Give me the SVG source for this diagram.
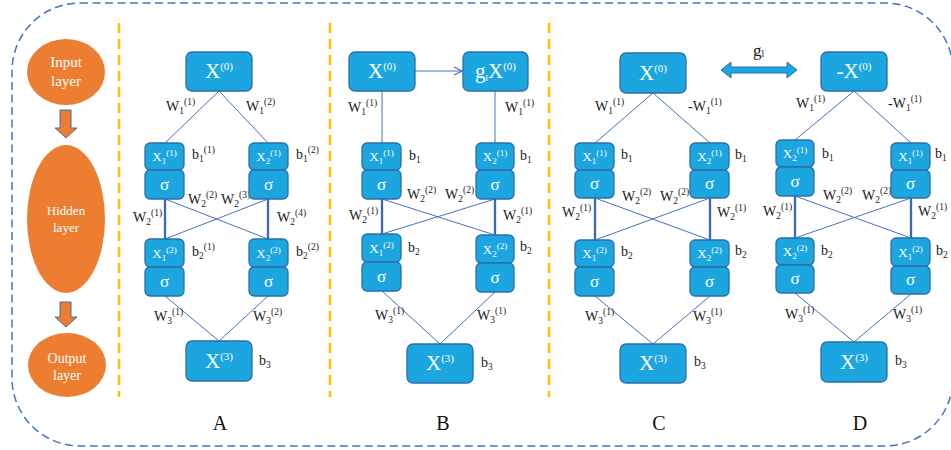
<svg xmlns="http://www.w3.org/2000/svg" width="951" height="450" viewBox="0 0 951 450">
<style>
.box{fill:#1CA6DF;stroke:#2C6FA8;stroke-width:1.3}
.bt{font-family:"Liberation Serif",serif;fill:#fff;text-anchor:middle}
.big{font-size:21px}
.sm{font-size:13px}
.sg{font-size:17px}
.bs{font-size:11px}
.ss{font-size:9px}
.lb{font-family:"Liberation Serif",serif;fill:#1a1a1a;font-size:14px}
.s{font-size:9.5px}
.gl{font-size:17px}
.pl{font-family:"Liberation Serif",serif;fill:#111;font-size:20px;text-anchor:middle}
.et{font-family:"Liberation Serif",serif;fill:#fff;text-anchor:middle}
.thin{stroke:#4472C4;stroke-width:1;fill:none}
.thick{stroke:#3A68B4;stroke-width:2.3;fill:none}
.sep{stroke:#FFC000;stroke-width:2.6;stroke-dasharray:10 6}
.oarr{fill:#ED7D31;stroke:#41719C;stroke-width:1}
</style>
<defs>
<marker id="open" viewBox="0 0 10 10" refX="9" refY="5" markerWidth="10" markerHeight="10" markerUnits="userSpaceOnUse" orient="auto">
<path d="M1,1 L9,5 L1,9" fill="none" stroke="#4472C4" stroke-width="1.2"/>
</marker>
</defs>

<rect x="12" y="3" width="941" height="443" rx="68" fill="none" stroke="#4472C4" stroke-width="1.5" stroke-dasharray="8 4.5"/>

<g id="separators">
<line class="sep" x1="119" y1="23" x2="119" y2="397"/>
<line class="sep" x1="330" y1="23" x2="330" y2="397"/>
<line class="sep" x1="549" y1="23" x2="549" y2="397"/>
</g>

<g id="legend">
<g id="input-layer"><ellipse cx="66" cy="72" rx="39" ry="33" fill="#ED7D31"/><text class="et" x="66" y="67" font-size="15">Input</text><text class="et" x="66" y="86" font-size="15">layer</text></g>
<g id="hidden-layer"><ellipse cx="66" cy="219" rx="39" ry="74" fill="#ED7D31"/><text class="et" x="66" y="215" font-size="13">Hidden</text><text class="et" x="66" y="232" font-size="13">layer</text></g>
<g id="output-layer"><ellipse cx="67" cy="365" rx="39" ry="32" fill="#ED7D31"/><text class="et" x="67" y="363" font-size="14">Output</text><text class="et" x="67" y="380" font-size="14">layer</text></g>
<path class="oarr" d="M60,110 L71,110 L71,128 L77,128 L66,138 L55,128 L60,128 Z"/>
<path class="oarr" d="M60,302 L71,302 L71,317 L77,317 L66,327 L55,317 L60,317 Z"/>
</g>

<g id="connectors">
<!-- A -->
<line class="thin" x1="219" y1="91" x2="165" y2="143"/>
<line class="thin" x1="219" y1="91" x2="268" y2="143"/>
<line class="thick" x1="165" y1="199" x2="165" y2="239"/>
<line class="thick" x1="268" y1="199" x2="268" y2="239"/>
<line class="thin" x1="165" y1="199" x2="268" y2="239"/>
<line class="thin" x1="268" y1="199" x2="165" y2="239"/>
<line class="thin" x1="165" y1="296" x2="219" y2="341"/>
<line class="thin" x1="268" y1="296" x2="219" y2="341"/>
<!-- B -->
<line class="thin" x1="415" y1="71" x2="462" y2="71" marker-end="url(#open)"/>
<line class="thin" x1="382" y1="91" x2="382" y2="143"/>
<line class="thin" x1="495" y1="91" x2="495" y2="143"/>
<line class="thick" x1="382" y1="199" x2="382" y2="234"/>
<line class="thick" x1="495" y1="199" x2="495" y2="235"/>
<line class="thin" x1="382" y1="199" x2="495" y2="235"/>
<line class="thin" x1="495" y1="199" x2="382" y2="234"/>
<line class="thin" x1="382" y1="291" x2="440" y2="344"/>
<line class="thin" x1="495" y1="292" x2="440" y2="344"/>
<!-- C -->
<line class="thin" x1="653" y1="93" x2="595" y2="143"/>
<line class="thin" x1="653" y1="93" x2="710" y2="143"/>
<line class="thick" x1="595" y1="198" x2="595" y2="240"/>
<line class="thick" x1="710" y1="198" x2="710" y2="240"/>
<line class="thin" x1="595" y1="198" x2="710" y2="240"/>
<line class="thin" x1="710" y1="198" x2="595" y2="240"/>
<line class="thin" x1="595" y1="296" x2="653" y2="344"/>
<line class="thin" x1="710" y1="296" x2="653" y2="344"/>
<!-- D -->
<line class="thin" x1="854" y1="91" x2="795" y2="140"/>
<line class="thin" x1="854" y1="91" x2="911" y2="143"/>
<line class="thick" x1="795" y1="196" x2="795" y2="238"/>
<line class="thick" x1="911" y1="198" x2="911" y2="238"/>
<line class="thin" x1="795" y1="196" x2="911" y2="238"/>
<line class="thin" x1="911" y1="198" x2="795" y2="238"/>
<line class="thin" x1="795" y1="293" x2="854" y2="342"/>
<line class="thin" x1="911" y1="294" x2="854" y2="342"/>
<!-- g_l double arrow -->
<path d="M721,70 L731,62 L731,67 L787,67 L787,62 L797,70 L787,78 L787,73 L731,73 L731,78 Z" fill="#1CA6DF" stroke="#2C6FA8" stroke-width="1"/>
</g>

<g id="connector-labels" class="lb">
<!-- A -->
<text x="166" y="111">W<tspan class="s" dy="3">1</tspan><tspan class="s" dy="-9">(1)</tspan></text>
<text x="246" y="111">W<tspan class="s" dy="3">1</tspan><tspan class="s" dy="-9">(2)</tspan></text>
<text x="188" y="204">W<tspan class="s" dy="3">2</tspan><tspan class="s" dy="-9">(2)</tspan></text>
<text x="221" y="204">W<tspan class="s" dy="3">2</tspan><tspan class="s" dy="-9">(3)</tspan></text>
<text x="133" y="222">W<tspan class="s" dy="3">2</tspan><tspan class="s" dy="-9">(1)</tspan></text>
<text x="277" y="222">W<tspan class="s" dy="3">2</tspan><tspan class="s" dy="-9">(4)</tspan></text>
<text x="154" y="321">W<tspan class="s" dy="3">3</tspan><tspan class="s" dy="-9">(1)</tspan></text>
<text x="253" y="321">W<tspan class="s" dy="3">3</tspan><tspan class="s" dy="-9">(2)</tspan></text>
<!-- B -->
<text x="348" y="112">W<tspan class="s" dy="3">1</tspan><tspan class="s" dy="-9">(1)</tspan></text>
<text x="505" y="112">W<tspan class="s" dy="3">1</tspan><tspan class="s" dy="-9">(1)</tspan></text>
<text x="407" y="199">W<tspan class="s" dy="3">2</tspan><tspan class="s" dy="-9">(2)</tspan></text>
<text x="445" y="199">W<tspan class="s" dy="3">2</tspan><tspan class="s" dy="-9">(2)</tspan></text>
<text x="349" y="220">W<tspan class="s" dy="3">2</tspan><tspan class="s" dy="-9">(1)</tspan></text>
<text x="503" y="220">W<tspan class="s" dy="3">2</tspan><tspan class="s" dy="-9">(1)</tspan></text>
<text x="375" y="320">W<tspan class="s" dy="3">3</tspan><tspan class="s" dy="-9">(1)</tspan></text>
<text x="477" y="320">W<tspan class="s" dy="3">3</tspan><tspan class="s" dy="-9">(1)</tspan></text>
<!-- C -->
<text x="595" y="111">W<tspan class="s" dy="3">1</tspan><tspan class="s" dy="-9">(1)</tspan></text>
<text x="688" y="111">-W<tspan class="s" dy="3">1</tspan><tspan class="s" dy="-9">(1)</tspan></text>
<text x="622" y="201">W<tspan class="s" dy="3">2</tspan><tspan class="s" dy="-9">(2)</tspan></text>
<text x="660" y="201">W<tspan class="s" dy="3">2</tspan><tspan class="s" dy="-9">(2)</tspan></text>
<text x="562" y="217">W<tspan class="s" dy="3">2</tspan><tspan class="s" dy="-9">(1)</tspan></text>
<text x="717" y="217">W<tspan class="s" dy="3">2</tspan><tspan class="s" dy="-9">(1)</tspan></text>
<text x="585" y="321">W<tspan class="s" dy="3">3</tspan><tspan class="s" dy="-9">(1)</tspan></text>
<text x="693" y="321">W<tspan class="s" dy="3">3</tspan><tspan class="s" dy="-9">(1)</tspan></text>
<!-- D -->
<text x="796" y="108">W<tspan class="s" dy="3">1</tspan><tspan class="s" dy="-9">(1)</tspan></text>
<text x="888" y="108">-W<tspan class="s" dy="3">1</tspan><tspan class="s" dy="-9">(1)</tspan></text>
<text x="823" y="200">W<tspan class="s" dy="3">2</tspan><tspan class="s" dy="-9">(2)</tspan></text>
<text x="862" y="200">W<tspan class="s" dy="3">2</tspan><tspan class="s" dy="-9">(2)</tspan></text>
<text x="763" y="216">W<tspan class="s" dy="3">2</tspan><tspan class="s" dy="-9">(1)</tspan></text>
<text x="918" y="216">W<tspan class="s" dy="3">2</tspan><tspan class="s" dy="-9">(1)</tspan></text>
<text x="785" y="319">W<tspan class="s" dy="3">3</tspan><tspan class="s" dy="-9">(1)</tspan></text>
<text x="893" y="319">W<tspan class="s" dy="3">3</tspan><tspan class="s" dy="-9">(1)</tspan></text>
<!-- g_l -->
<text class="gl" x="753" y="56">g<tspan class="s" dy="1">l</tspan></text>
</g>

<!-- Panel A nodes -->
<g id="A-x0"><rect class="box" x="186" y="52" width="66" height="39" rx="6"/><text class="bt big" x="219" y="78">X<tspan class="bs" dy="-8">(0)</tspan></text></g>
<g id="A-h11"><rect class="box" x="145" y="143" width="39" height="27" rx="5"/><rect class="box" x="145" y="170" width="39" height="29" rx="5"/><text class="bt sm" x="164.5" y="161">X<tspan class="ss" dy="3">1</tspan><tspan class="ss" dy="-8">(1)</tspan></text><text class="bt sg" x="164.5" y="190">σ</text><text class="lb" x="192" y="159">b<tspan class="s" dy="3">1</tspan><tspan class="s" dy="-9">(1)</tspan></text></g>
<g id="A-h12"><rect class="box" x="249" y="143" width="39" height="27" rx="5"/><rect class="box" x="249" y="170" width="39" height="29" rx="5"/><text class="bt sm" x="268.5" y="161">X<tspan class="ss" dy="3">2</tspan><tspan class="ss" dy="-8">(1)</tspan></text><text class="bt sg" x="268.5" y="190">σ</text><text class="lb" x="296" y="159">b<tspan class="s" dy="3">1</tspan><tspan class="s" dy="-9">(2)</tspan></text></g>
<g id="A-h21"><rect class="box" x="145" y="239" width="39" height="28" rx="5"/><rect class="box" x="145" y="267" width="39" height="29" rx="5"/><text class="bt sm" x="164.5" y="258">X<tspan class="ss" dy="3">1</tspan><tspan class="ss" dy="-8">(2)</tspan></text><text class="bt sg" x="164.5" y="287">σ</text><text class="lb" x="192" y="256">b<tspan class="s" dy="3">2</tspan><tspan class="s" dy="-9">(1)</tspan></text></g>
<g id="A-h22"><rect class="box" x="249" y="239" width="39" height="28" rx="5"/><rect class="box" x="249" y="267" width="39" height="29" rx="5"/><text class="bt sm" x="268.5" y="258">X<tspan class="ss" dy="3">2</tspan><tspan class="ss" dy="-8">(2)</tspan></text><text class="bt sg" x="268.5" y="287">σ</text><text class="lb" x="296" y="256">b<tspan class="s" dy="3">2</tspan><tspan class="s" dy="-9">(2)</tspan></text></g>
<g id="A-x3"><rect class="box" x="186" y="341" width="66" height="40" rx="6"/><text class="bt big" x="219" y="368">X<tspan class="bs" dy="-8">(3)</tspan></text><text class="lb" x="259" y="365">b<tspan class="s" dy="3">3</tspan></text></g>
<text class="pl" x="220" y="430">A</text>

<!-- Panel B nodes -->
<g id="B-x0"><rect class="box" x="349" y="52" width="66" height="39" rx="6"/><text class="bt big" x="382" y="78">X<tspan class="bs" dy="-8">(0)</tspan></text></g>
<g id="B-gx0"><rect class="box" x="463" y="52" width="65" height="39" rx="6"/><text class="bt big" x="495.5" y="78">g<tspan class="ss" dy="3">l</tspan><tspan dy="-3">X</tspan><tspan class="bs" dy="-8">(0)</tspan></text></g>
<g id="B-h11"><rect class="box" x="362" y="143" width="39" height="27" rx="5"/><rect class="box" x="362" y="170" width="39" height="29" rx="5"/><text class="bt sm" x="381.5" y="161">X<tspan class="ss" dy="3">1</tspan><tspan class="ss" dy="-8">(1)</tspan></text><text class="bt sg" x="381.5" y="190">σ</text><text class="lb" x="409" y="160">b<tspan class="s" dy="3">1</tspan></text></g>
<g id="B-h12"><rect class="box" x="476" y="143" width="38" height="27" rx="5"/><rect class="box" x="476" y="170" width="38" height="29" rx="5"/><text class="bt sm" x="495" y="161">X<tspan class="ss" dy="3">2</tspan><tspan class="ss" dy="-8">(1)</tspan></text><text class="bt sg" x="495" y="190">σ</text><text class="lb" x="520" y="160">b<tspan class="s" dy="3">1</tspan></text></g>
<g id="B-h21"><rect class="box" x="362" y="234" width="39" height="28" rx="5"/><rect class="box" x="362" y="262" width="39" height="29" rx="5"/><text class="bt sm" x="381.5" y="253">X<tspan class="ss" dy="3">1</tspan><tspan class="ss" dy="-8">(2)</tspan></text><text class="bt sg" x="381.5" y="282">σ</text><text class="lb" x="408" y="252">b<tspan class="s" dy="3">2</tspan></text></g>
<g id="B-h22"><rect class="box" x="476" y="235" width="38" height="28" rx="5"/><rect class="box" x="476" y="263" width="38" height="29" rx="5"/><text class="bt sm" x="495" y="254">X<tspan class="ss" dy="3">2</tspan><tspan class="ss" dy="-8">(2)</tspan></text><text class="bt sg" x="495" y="283">σ</text><text class="lb" x="520" y="251">b<tspan class="s" dy="3">2</tspan></text></g>
<g id="B-x3"><rect class="box" x="407" y="344" width="66" height="39" rx="6"/><text class="bt big" x="440" y="370">X<tspan class="bs" dy="-8">(3)</tspan></text><text class="lb" x="481" y="367">b<tspan class="s" dy="3">3</tspan></text></g>
<text class="pl" x="443" y="430">B</text>

<!-- Panel C nodes -->
<g id="C-x0"><rect class="box" x="620" y="53" width="66" height="40" rx="6"/><text class="bt big" x="653" y="80">X<tspan class="bs" dy="-8">(0)</tspan></text></g>
<g id="C-h11"><rect class="box" x="575" y="143" width="39" height="27" rx="5"/><rect class="box" x="575" y="170" width="39" height="28" rx="5"/><text class="bt sm" x="594.5" y="161">X<tspan class="ss" dy="3">1</tspan><tspan class="ss" dy="-8">(1)</tspan></text><text class="bt sg" x="594.5" y="189">σ</text><text class="lb" x="621" y="159">b<tspan class="s" dy="3">1</tspan></text></g>
<g id="C-h12"><rect class="box" x="690" y="143" width="39" height="27" rx="5"/><rect class="box" x="690" y="170" width="39" height="28" rx="5"/><text class="bt sm" x="709.5" y="161">X<tspan class="ss" dy="3">2</tspan><tspan class="ss" dy="-8">(1)</tspan></text><text class="bt sg" x="709.5" y="189">σ</text><text class="lb" x="735" y="159">b<tspan class="s" dy="3">1</tspan></text></g>
<g id="C-h21"><rect class="box" x="575" y="240" width="39" height="27" rx="5"/><rect class="box" x="575" y="267" width="39" height="29" rx="5"/><text class="bt sm" x="594.5" y="258">X<tspan class="ss" dy="3">1</tspan><tspan class="ss" dy="-8">(2)</tspan></text><text class="bt sg" x="594.5" y="287">σ</text><text class="lb" x="621" y="256">b<tspan class="s" dy="3">2</tspan></text></g>
<g id="C-h22"><rect class="box" x="690" y="240" width="39" height="27" rx="5"/><rect class="box" x="690" y="267" width="39" height="29" rx="5"/><text class="bt sm" x="709.5" y="258">X<tspan class="ss" dy="3">2</tspan><tspan class="ss" dy="-8">(2)</tspan></text><text class="bt sg" x="709.5" y="287">σ</text><text class="lb" x="735" y="255">b<tspan class="s" dy="3">2</tspan></text></g>
<g id="C-x3"><rect class="box" x="620" y="344" width="66" height="39" rx="6"/><text class="bt big" x="653" y="370">X<tspan class="bs" dy="-8">(3)</tspan></text><text class="lb" x="694" y="366">b<tspan class="s" dy="3">3</tspan></text></g>
<text class="pl" x="659" y="430">C</text>

<!-- Panel D nodes -->
<g id="D-x0"><rect class="box" x="821" y="52" width="66" height="39" rx="6"/><text class="bt big" x="854" y="78">-X<tspan class="bs" dy="-8">(0)</tspan></text></g>
<g id="D-h11"><rect class="box" x="776" y="140" width="38" height="27" rx="5"/><rect class="box" x="776" y="167" width="38" height="29" rx="5"/><text class="bt sm" x="795" y="158">X<tspan class="ss" dy="3">2</tspan><tspan class="ss" dy="-8">(1)</tspan></text><text class="bt sg" x="795" y="187">σ</text><text class="lb" x="822" y="158">b<tspan class="s" dy="3">1</tspan></text></g>
<g id="D-h12"><rect class="box" x="891" y="143" width="39" height="27" rx="5"/><rect class="box" x="891" y="170" width="39" height="28" rx="5"/><text class="bt sm" x="910.5" y="161">X<tspan class="ss" dy="3">1</tspan><tspan class="ss" dy="-8">(1)</tspan></text><text class="bt sg" x="910.5" y="189">σ</text><text class="lb" x="935" y="158">b<tspan class="s" dy="3">1</tspan></text></g>
<g id="D-h21"><rect class="box" x="776" y="238" width="38" height="27" rx="5"/><rect class="box" x="776" y="265" width="38" height="28" rx="5"/><text class="bt sm" x="795" y="256">X<tspan class="ss" dy="3">2</tspan><tspan class="ss" dy="-8">(2)</tspan></text><text class="bt sg" x="795" y="284">σ</text><text class="lb" x="821" y="255">b<tspan class="s" dy="3">2</tspan></text></g>
<g id="D-h22"><rect class="box" x="891" y="238" width="39" height="28" rx="5"/><rect class="box" x="891" y="266" width="39" height="28" rx="5"/><text class="bt sm" x="910.5" y="257">X<tspan class="ss" dy="3">1</tspan><tspan class="ss" dy="-8">(2)</tspan></text><text class="bt sg" x="910.5" y="285">σ</text><text class="lb" x="936" y="255">b<tspan class="s" dy="3">2</tspan></text></g>
<g id="D-x3"><rect class="box" x="821" y="342" width="66" height="40" rx="6"/><text class="bt big" x="854" y="369">X<tspan class="bs" dy="-8">(3)</tspan></text><text class="lb" x="895" y="365">b<tspan class="s" dy="3">3</tspan></text></g>
<text class="pl" x="860" y="430">D</text>
</svg>
